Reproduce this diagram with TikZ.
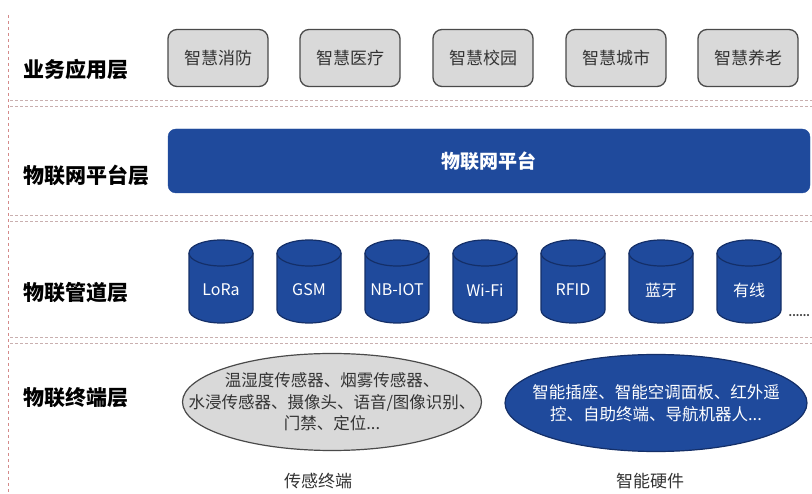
\documentclass[tikz,border=0pt]{standalone}
\usepackage{fontspec}
\setmainfont{Noto Sans CJK SC}
\usetikzlibrary{shapes.geometric}
\definecolor{mainblue}{HTML}{1F4A9C}
\definecolor{cylline}{HTML}{142F68}
\definecolor{boxgray}{HTML}{D9D9D9}
\definecolor{boxline}{HTML}{4A4A4A}
\definecolor{sepcol}{HTML}{C9AFAF}
\definecolor{vcol}{HTML}{D48A8A}
\definecolor{txtgray}{HTML}{333333}
\tikzset{
  layerlabel/.style={anchor=west,font=\fontsize{21}{24}\selectfont\bfseries,text=black,inner sep=0pt},
  appbox/.style={draw=boxline,fill=boxgray,line width=1.3pt,rounded corners=9pt,minimum width=100pt,minimum height=57pt,font=\fontsize{17}{20}\selectfont,text=txtgray},
  platform/.style={fill=mainblue,draw=mainblue,rounded corners=8pt,minimum width=642pt,minimum height=64pt,font=\fontsize{19}{22}\selectfont\bfseries,text=white},
  sepline/.style={draw=sepcol,line width=1pt,dash pattern=on 3pt off 2pt},
  vline/.style={draw=vcol,line width=1pt,dash pattern=on 3pt off 3pt},
  cyltext/.style={font=\fontsize{16}{19}\selectfont,text=white,inner sep=0pt},
  cylfill/.style={fill=mainblue},
  cyldraw/.style={draw=cylline,line width=1.2pt},
  grayell/.style={ellipse,draw=boxline,fill=boxgray,line width=1.2pt,minimum width=299pt,minimum height=97pt,inner sep=0pt},
  blueell/.style={ellipse,draw=cylline,fill=mainblue,line width=1.2pt,minimum width=302pt,minimum height=97pt,inner sep=0pt},
  elltext/.style={align=center,font=\fontsize{16.5}{21.5}\selectfont,inner sep=0pt},
  captext/.style={font=\fontsize{17}{20}\selectfont,text=txtgray}
}
\newcommand\mycyl[3]{%
  \fill[cylfill] ({#1-32},-253) -- ({#1-32},-310) arc[start angle=180,end angle=360,x radius=32,y radius=13] -- ({#1+32},-253) arc[start angle=0,end angle=180,x radius=32,y radius=13] -- cycle;
  \draw[cyldraw] ({#1-32},-253) -- ({#1-32},-310) arc[start angle=180,end angle=360,x radius=32,y radius=13] -- ({#1+32},-253);
  \draw[cyldraw] (#1,-253) ellipse[x radius=32,y radius=13];
  \node[cyltext] (#2) at (#1,-290) {#3};
}
\begin{document}
\begin{tikzpicture}[x=1pt,y=1pt]
\fill[white] (0,0) rectangle (812,-494);
\useasboundingbox (0,0) rectangle (812,-494);
% separators
\draw[vline] (8,-15) -- (8,-494);
\foreach \yy in {101,107,216,222,338,344} {\draw[sepline] (10,-\yy) -- (812,-\yy);}
% layer labels
\node[layerlabel] (l1) at (23,-70) {业务应用层};
\node[layerlabel] (l2) at (23,-175) {物联网平台层};
\node[layerlabel] (l3) at (23,-293) {物联管道层};
\node[layerlabel] (l4) at (23,-398) {物联终端层};
% application boxes
\node[appbox] (b1) at (218,-58) {智慧消防};
\node[appbox] (b2) at (350,-58) {智慧医疗};
\node[appbox] (b3) at (483,-58) {智慧校园};
\node[appbox] (b4) at (616,-58) {智慧城市};
\node[appbox] (b5) at (748,-58) {智慧养老};
% platform
\node[platform] (p) at (489,-161) {物联网平台};
% cylinders
\mycyl{221}{c1}{LoRa}
\mycyl{309}{c2}{GSM}
\mycyl{397}{c3}{NB-IOT}
\mycyl{485}{c4}{Wi-Fi}
\mycyl{573}{c5}{RFID}
\mycyl{661}{c6}{蓝牙}
\mycyl{749}{c7}{有线}
\node[anchor=east,font=\fontsize{10}{12}\selectfont\bfseries,text=darkgray,inner sep=0pt] (dots) at (810,-316) {......};
% terminal ellipses
\node[grayell] (e1) at (332,-402) {};
\node[elltext,text=txtgray] (t1) at (e1) {温湿度传感器、烟雾传感器、\\水浸传感器、摄像头、语音/图像识别、\\门禁、定位...};
\node[blueell] (e2) at (656,-403) {};
\node[elltext,text=white] (t2) at (e2) {智能插座、智能空调面板、红外遥\\控、自助终端、导航机器人...};
\node[captext] (s1) at (318,-481) {传感终端};
\node[captext] (s2) at (650,-481) {智能硬件};
\end{tikzpicture}
\end{document}
